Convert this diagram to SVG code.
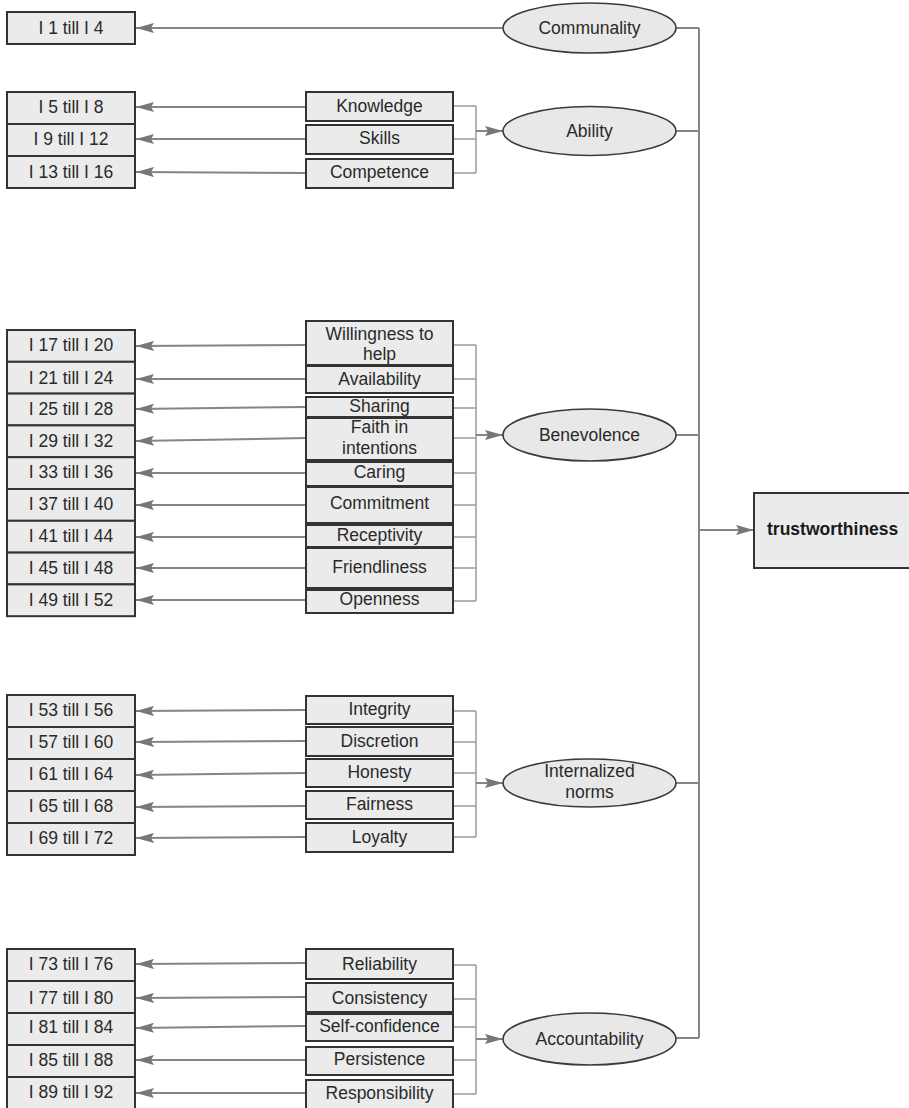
<svg xmlns="http://www.w3.org/2000/svg" width="909" height="1108" viewBox="0 0 909 1108">
<style>
text{font-family:"Liberation Sans",Arial,sans-serif;font-size:17.5px;fill:#2a2a2a;text-anchor:middle}
.b{fill:#ebebeb;stroke:#333;stroke-width:2}
.e{fill:#e8e8e8;stroke:#3a3a3a;stroke-width:1.6}
.c{fill:none;stroke:#858585;stroke-width:2}
.k{fill:none;stroke:#9a9a9a;stroke-width:1.5}
.t{font-weight:bold;text-anchor:start;fill:#1a1a1a}
</style>
<defs>
<marker id="a" viewBox="0 0 18 10" markerWidth="18" markerHeight="10" refX="18" refY="5" orient="auto" markerUnits="userSpaceOnUse">
<path d="M0,0 L18,5 L0,10 L3,5 z" fill="#777"/>
</marker>
</defs>
<rect width="909" height="1108" fill="#fff"/>
<g id="connectors">
<path class="c" d="M503,28 L136,28" marker-end="url(#a)"/>
<path class="c" d="M306,107 L136,107" marker-end="url(#a)"/>
<path class="c" d="M306,139 L136,139" marker-end="url(#a)"/>
<path class="c" d="M306,173 L136,172" marker-end="url(#a)"/>
<path class="k" d="M453,106 H476 M453,139 H476 M453,173 H476 M476,106 V173"/>
<path class="c" d="M476,131 L503,131" marker-end="url(#a)"/>
<path class="c" d="M306,345 L136,346" marker-end="url(#a)"/>
<path class="c" d="M306,379 L136,379" marker-end="url(#a)"/>
<path class="c" d="M306,407 L136,409" marker-end="url(#a)"/>
<path class="c" d="M306,438 L136,441" marker-end="url(#a)"/>
<path class="c" d="M306,473 L136,473" marker-end="url(#a)"/>
<path class="c" d="M306,505 L136,505" marker-end="url(#a)"/>
<path class="c" d="M306,537 L136,537" marker-end="url(#a)"/>
<path class="c" d="M306,568 L136,568" marker-end="url(#a)"/>
<path class="c" d="M306,600 L136,600" marker-end="url(#a)"/>
<path class="k" d="M453,345 H476 M453,379 H476 M453,408 H476 M453,438 H476 M453,473 H476 M453,505 H476 M453,537 H476 M453,568 H476 M453,601 H476 M476,345 V601"/>
<path class="c" d="M476,435 L503,435" marker-end="url(#a)"/>
<path class="c" d="M306,710 L136,711" marker-end="url(#a)"/>
<path class="c" d="M306,741 L136,742" marker-end="url(#a)"/>
<path class="c" d="M306,773 L136,775" marker-end="url(#a)"/>
<path class="c" d="M306,806 L136,807" marker-end="url(#a)"/>
<path class="c" d="M306,837 L136,838" marker-end="url(#a)"/>
<path class="k" d="M453,711 H476 M453,742 H476 M453,773 H476 M453,806 H476 M453,837 H476 M476,711 V837"/>
<path class="c" d="M476,783 L503,783" marker-end="url(#a)"/>
<path class="c" d="M306,963 L136,964" marker-end="url(#a)"/>
<path class="c" d="M306,997 L136,998" marker-end="url(#a)"/>
<path class="c" d="M306,1026 L136,1028" marker-end="url(#a)"/>
<path class="c" d="M306,1060 L136,1060" marker-end="url(#a)"/>
<path class="c" d="M306,1093 L136,1093" marker-end="url(#a)"/>
<path class="k" d="M453,965 H476 M453,999 H476 M453,1027 H476 M453,1060 H476 M453,1094 H476 M476,965 V1094"/>
<path class="c" d="M476,1039 L503,1039" marker-end="url(#a)"/>
<path class="c" d="M676,28 H699 M676,131 H699 M676,435 H699 M676,783 H699 M676,1038 H699 M699,28 V1038"/>
<path class="c" d="M699,530 L754,530" marker-end="url(#a)"/>
</g>
<g id="n-i1"><rect class="b" x="7" y="12" width="128" height="32"/><text x="71" y="34">I 1 till I 4</text></g>
<g id="n-communality"><ellipse class="e" cx="589.5" cy="28" rx="86.5" ry="25"/><text x="589.5" y="34">Communality</text></g>
<g id="n-i5"><rect class="b" x="7" y="92" width="128" height="32"/><text x="71" y="113">I 5 till I 8</text></g>
<g id="n-i9"><rect class="b" x="7" y="124" width="128" height="32"/><text x="71" y="145">I 9 till I 12</text></g>
<g id="n-i13"><rect class="b" x="7" y="156" width="128" height="32"/><text x="71" y="178">I 13 till I 16</text></g>
<g id="n-knowledge"><rect class="b" x="306" y="92" width="147" height="29"/><text x="379.5" y="112">Knowledge</text></g>
<g id="n-skills"><rect class="b" x="306" y="125" width="147" height="29"/><text x="379.5" y="144">Skills</text></g>
<g id="n-competence"><rect class="b" x="306" y="159" width="147" height="29"/><text x="379.5" y="178">Competence</text></g>
<g id="n-ability"><ellipse class="e" cx="589.5" cy="131" rx="86.5" ry="24.5"/><text x="589.5" y="137">Ability</text></g>
<g id="n-i17"><rect class="b" x="7" y="330" width="128" height="31.8"/><text x="71" y="351">I 17 till I 20</text></g>
<g id="n-i21"><rect class="b" x="7" y="361.8" width="128" height="31.8"/><text x="71" y="384">I 21 till I 24</text></g>
<g id="n-i25"><rect class="b" x="7" y="393.6" width="128" height="31.8"/><text x="71" y="415">I 25 till I 28</text></g>
<g id="n-i29"><rect class="b" x="7" y="425.4" width="128" height="31.8"/><text x="71" y="447">I 29 till I 32</text></g>
<g id="n-i33"><rect class="b" x="7" y="457.2" width="128" height="31.8"/><text x="71" y="478">I 33 till I 36</text></g>
<g id="n-i37"><rect class="b" x="7" y="489" width="128" height="31.8"/><text x="71" y="510">I 37 till I 40</text></g>
<g id="n-i41"><rect class="b" x="7" y="520.8" width="128" height="31.8"/><text x="71" y="542">I 41 till I 44</text></g>
<g id="n-i45"><rect class="b" x="7" y="552.6" width="128" height="31.8"/><text x="71" y="574">I 45 till I 48</text></g>
<g id="n-i49"><rect class="b" x="7" y="584.4" width="128" height="31.8"/><text x="71" y="606">I 49 till I 52</text></g>
<g id="n-willingness"><rect class="b" x="306" y="321" width="147" height="44"/><text x="379.5" y="340">Willingness to</text><text x="379.5" y="360">help</text></g>
<g id="n-availability"><rect class="b" x="306" y="366" width="147" height="27"/><text x="379.5" y="385">Availability</text></g>
<g id="n-sharing"><rect class="b" x="306" y="397" width="147" height="20"/><text x="379.5" y="412">Sharing</text></g>
<g id="n-faith"><rect class="b" x="306" y="418" width="147" height="42"/><text x="379.5" y="433">Faith in</text><text x="379.5" y="454">intentions</text></g>
<g id="n-caring"><rect class="b" x="306" y="462" width="147" height="24"/><text x="379.5" y="478">Caring</text></g>
<g id="n-commitment"><rect class="b" x="306" y="487" width="147" height="36"/><text x="379.5" y="509">Commitment</text></g>
<g id="n-receptivity"><rect class="b" x="306" y="525" width="147" height="22"/><text x="379.5" y="541">Receptivity</text></g>
<g id="n-friendliness"><rect class="b" x="306" y="548" width="147" height="40"/><text x="379.5" y="573">Friendliness</text></g>
<g id="n-openness"><rect class="b" x="306" y="590" width="147" height="23"/><text x="379.5" y="605">Openness</text></g>
<g id="n-benevolence"><ellipse class="e" cx="589.5" cy="435" rx="86.5" ry="26"/><text x="589.5" y="441">Benevolence</text></g>
<g id="n-trust"><rect class="b" x="754" y="493" width="170" height="75"/><text class="t" x="767" y="535">trustworthiness</text></g>
<g id="n-i53"><rect class="b" x="7" y="695" width="128" height="32"/><text x="71" y="716">I 53 till I 56</text></g>
<g id="n-i57"><rect class="b" x="7" y="727" width="128" height="32"/><text x="71" y="748">I 57 till I 60</text></g>
<g id="n-i61"><rect class="b" x="7" y="759" width="128" height="32"/><text x="71" y="780">I 61 till I 64</text></g>
<g id="n-i65"><rect class="b" x="7" y="791" width="128" height="32"/><text x="71" y="812">I 65 till I 68</text></g>
<g id="n-i69"><rect class="b" x="7" y="823" width="128" height="32"/><text x="71" y="844">I 69 till I 72</text></g>
<g id="n-integrity"><rect class="b" x="306" y="696" width="147" height="28"/><text x="379.5" y="715">Integrity</text></g>
<g id="n-discretion"><rect class="b" x="306" y="727" width="147" height="29"/><text x="379.5" y="747">Discretion</text></g>
<g id="n-honesty"><rect class="b" x="306" y="759" width="147" height="28"/><text x="379.5" y="778">Honesty</text></g>
<g id="n-fairness"><rect class="b" x="306" y="791" width="147" height="28"/><text x="379.5" y="810">Fairness</text></g>
<g id="n-loyalty"><rect class="b" x="306" y="823" width="147" height="29"/><text x="379.5" y="843">Loyalty</text></g>
<g id="n-internalized"><ellipse class="e" cx="589.5" cy="783" rx="86.5" ry="24"/><text x="589.5" y="777">Internalized</text><text x="589.5" y="798">norms</text></g>
<g id="n-i73"><rect class="b" x="7" y="949" width="128" height="32"/><text x="71" y="970">I 73 till I 76</text></g>
<g id="n-i77"><rect class="b" x="7" y="981" width="128" height="32"/><text x="71" y="1004">I 77 till I 80</text></g>
<g id="n-i81"><rect class="b" x="7" y="1013" width="128" height="32"/><text x="71" y="1033">I 81 till I 84</text></g>
<g id="n-i85"><rect class="b" x="7" y="1045" width="128" height="32"/><text x="71" y="1066">I 85 till I 88</text></g>
<g id="n-i89"><rect class="b" x="7" y="1077" width="128" height="33"/><text x="71" y="1098">I 89 till I 92</text></g>
<g id="n-reliability"><rect class="b" x="306" y="949" width="147" height="30"/><text x="379.5" y="970">Reliability</text></g>
<g id="n-consistency"><rect class="b" x="306" y="983" width="147" height="29"/><text x="379.5" y="1004">Consistency</text></g>
<g id="n-selfconf"><rect class="b" x="306" y="1014" width="147" height="27"/><text x="379.5" y="1032">Self-confidence</text></g>
<g id="n-persistence"><rect class="b" x="306" y="1047" width="147" height="28"/><text x="379.5" y="1065">Persistence</text></g>
<g id="n-responsibility"><rect class="b" x="306" y="1080" width="147" height="30"/><text x="379.5" y="1099">Responsibility</text></g>
<g id="n-accountability"><ellipse class="e" cx="589.5" cy="1039" rx="86.5" ry="26"/><text x="589.5" y="1045">Accountability</text></g>
</svg>
